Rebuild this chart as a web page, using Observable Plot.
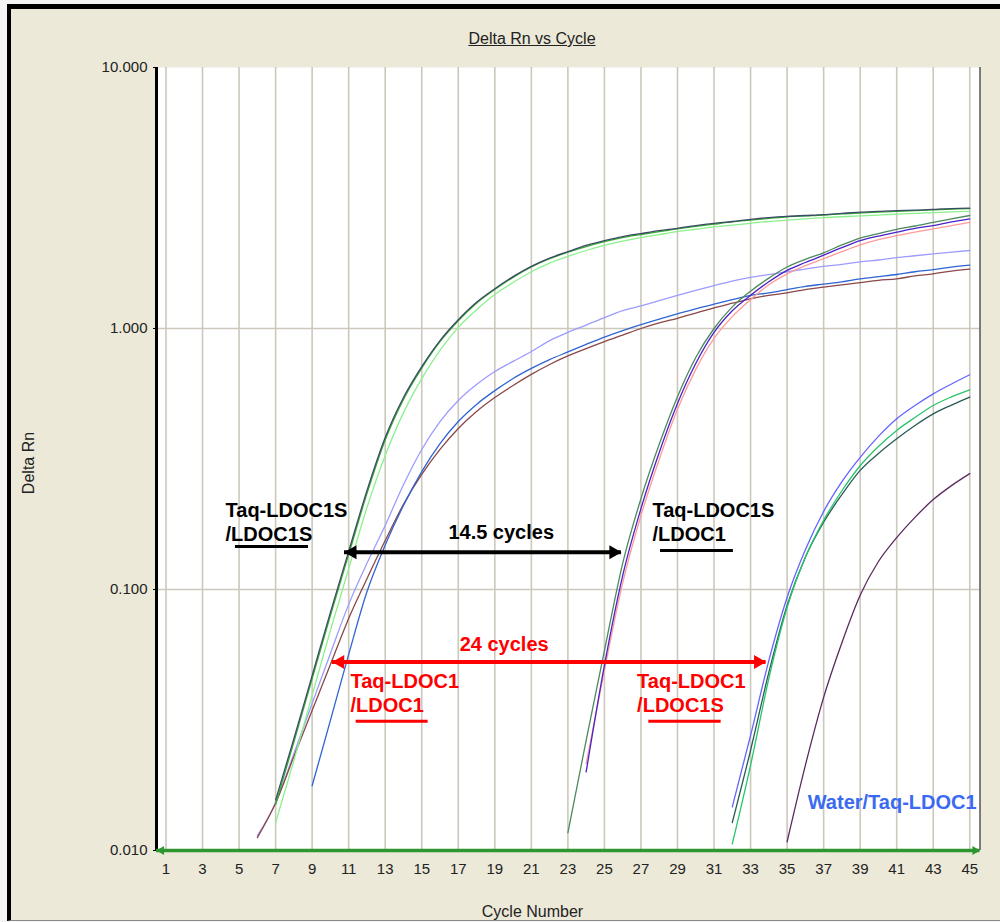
<!DOCTYPE html>
<html>
<head>
<meta charset="utf-8">
<script src="https://cdn.jsdelivr.net/npm/d3@7"></script>
<script src="https://cdn.jsdelivr.net/npm/@observablehq/plot@0.6"></script>
<style>
html, body { margin: 0; padding: 0; width: 1000px; height: 922px; overflow: hidden; background: #f4f4f4;
  font-family: "Liberation Sans", Arial, sans-serif; }
#panel { position: absolute; left: 7px; top: 4px; width: 1000px; height: 917px; box-sizing: border-box;
  background: #ece9d8; border-top: 5px solid #000; border-left: 4px solid #000; border-bottom: 1px solid #8a8a8a; }
#title { position: absolute; left: 0; width: 1064px; top: 30px; text-align: center; font-size: 16px; line-height: 18px;
  color: #222; text-decoration: underline; }
#ylabel { position: absolute; left: 29px; top: 463px; transform: translate(-50%, -50%) rotate(-90deg);
  font-size: 16px; color: #222; white-space: nowrap; }
#xlabel { position: absolute; left: 0; width: 1065px; top: 903px; text-align: center; font-size: 16px; line-height: 18px; color: #222; }
#chart { position: absolute; left: 0; top: 0; }
</style>
</head>
<body>
<div id="panel"></div>
<div id="title">Delta Rn vs Cycle</div>
<div id="ylabel">Delta Rn</div>
<div id="xlabel">Cycle Number</div>
<div id="chart"></div>
<script>
// ---------- data ----------
const cycleTicks = d3.range(1, 46, 2);            // 1, 3, ..., 45
const yTicks = [0.01, 0.1, 1, 10];
const xDomain = [0.48, 45.56];
const yDomain = [0.01, 10];

// Taq-LDOC1S / LDOC1S (early, high plateau)
const aDarkStart = 7;
const aDark = [0.0156, 0.0268, 0.0468, 0.0817, 0.140, 0.239, 0.382, 0.544, 0.714, 0.899, 1.08, 1.26, 1.42, 1.58, 1.73, 1.86, 1.97, 2.08, 2.17, 2.25, 2.31, 2.37, 2.42, 2.48, 2.53, 2.57, 2.62, 2.66, 2.69, 2.71, 2.73, 2.76, 2.79, 2.81, 2.83, 2.84, 2.86, 2.88, 2.89];
const aGreenStart = 7;
const aGreen = [0.0150, 0.0260, 0.0455, 0.0795, 0.136, 0.233, 0.374, 0.535, 0.705, 0.89, 1.07, 1.25, 1.41, 1.57, 1.72, 1.85, 1.96, 2.06, 2.15, 2.23, 2.29, 2.35, 2.41, 2.46, 2.51, 2.56, 2.60, 2.64, 2.68, 2.70, 2.72, 2.75, 2.77, 2.79, 2.81, 2.83, 2.85, 2.87, 2.88];
const aLightStart = 7;
const aLight = [0.0128, 0.0221, 0.0393, 0.0697, 0.120, 0.206, 0.326, 0.476, 0.643, 0.824, 1.01, 1.18, 1.35, 1.50, 1.65, 1.78, 1.89, 1.99, 2.08, 2.16, 2.23, 2.29, 2.35, 2.40, 2.45, 2.49, 2.53, 2.57, 2.60, 2.63, 2.66, 2.68, 2.70, 2.72, 2.74, 2.76, 2.78, 2.80, 2.81];

// Taq-LDOC1 / LDOC1 (early, lower plateau)
const bLavenderStart = 6;
const bLavender = [0.0114, 0.0152, 0.0235, 0.0366, 0.0569, 0.0877, 0.126, 0.176, 0.252, 0.344, 0.44, 0.530, 0.610, 0.684, 0.748, 0.816, 0.899, 0.966, 1.03, 1.10, 1.17, 1.22, 1.28, 1.34, 1.40, 1.46, 1.52, 1.57, 1.61, 1.65, 1.69, 1.73, 1.76, 1.80, 1.83, 1.87, 1.90, 1.93, 1.96, 1.99];
const bBlueStart = 9;
const bBlue = [0.0177, 0.0315, 0.0564, 0.098, 0.148, 0.210, 0.283, 0.362, 0.44, 0.512, 0.578, 0.643, 0.703, 0.760, 0.813, 0.869, 0.927, 0.982, 1.035, 1.087, 1.138, 1.19, 1.24, 1.29, 1.34, 1.37, 1.41, 1.45, 1.48, 1.51, 1.55, 1.58, 1.61, 1.65, 1.68, 1.72, 1.75];
const bBrownStart = 6;
const bBrown = [0.0112, 0.0152, 0.0229, 0.0344, 0.0516, 0.0775, 0.110, 0.154, 0.212, 0.276, 0.344, 0.414, 0.481, 0.544, 0.605, 0.667, 0.728, 0.785, 0.838, 0.891, 0.944, 1.0, 1.05, 1.094, 1.146, 1.20, 1.25, 1.30, 1.34, 1.37, 1.41, 1.44, 1.47, 1.50, 1.53, 1.55, 1.59, 1.62, 1.66, 1.69];

// Taq-LDOC1S / LDOC1 (middle)
const cGreenStart = 23;
const cGreen = [0.0117, 0.0264, 0.0583, 0.126, 0.223, 0.36, 0.548, 0.774, 1.0, 1.21, 1.39, 1.56, 1.72, 1.84, 1.95, 2.09, 2.22, 2.31, 2.40, 2.47, 2.55, 2.63, 2.71];
const cPurpleStart = 24;
const cPurple = [0.020, 0.0512, 0.113, 0.204, 0.335, 0.516, 0.734, 0.966, 1.17, 1.34, 1.51, 1.67, 1.79, 1.91, 2.04, 2.17, 2.26, 2.34, 2.42, 2.48, 2.56, 2.63];
const cPinkStart = 24;
const cPink = [0.0215, 0.049, 0.106, 0.192, 0.315, 0.49, 0.697, 0.916, 1.11, 1.29, 1.47, 1.62, 1.74, 1.85, 1.97, 2.09, 2.19, 2.27, 2.34, 2.41, 2.48, 2.55];

// Taq-LDOC1 / LDOC1S (late)
const dBlueStart = 32;
const dBlue = [0.0147, 0.0276, 0.0534, 0.0932, 0.142, 0.199, 0.259, 0.321, 0.386, 0.451, 0.507, 0.562, 0.613, 0.665];
const dGreenStart = 32;
const dGreen = [0.0106, 0.0212, 0.0456, 0.0853, 0.133, 0.184, 0.239, 0.298, 0.353, 0.407, 0.456, 0.507, 0.547, 0.582];
const dTealStart = 32;
const dTeal = [0.0128, 0.0242, 0.0481, 0.0869, 0.133, 0.181, 0.231, 0.286, 0.332, 0.378, 0.425, 0.471, 0.509, 0.546];

// Water / Taq-LDOC1
const eWaterStart = 35;
const eWater = [0.0108, 0.0212, 0.0386, 0.0625, 0.095, 0.128, 0.158, 0.189, 0.221, 0.25, 0.278];

// annotations (anchored in data space: cycle, Delta Rn)
const labelTexts  = ["Taq-LDOC1S\n/LDOC1S", "14.5 cycles", "Taq-LDOC1S\n/LDOC1", "24 cycles", "Taq-LDOC1\n/LDOC1", "Taq-LDOC1\n/LDOC1S", "Water/Taq-LDOC1"];
const labelCycles = [4.26, 19.35, 27.63, 19.51, 11.10, 26.79, 36.13];
const labelRn     = [0.1528, 0.1555, 0.1528, 0.0583, 0.0339, 0.0339, 0.01445];
const underlineX1 = [4.80, 28.07, 11.41, 27.43];
const underlineX2 = [8.80, 32.06, 15.35, 31.39];
const underlineRn = [0.1462, 0.141, 0.0313, 0.0313];
const arrowX1 = [10.77, 10.10];
const arrowX2 = [25.93, 33.85];
const arrowRn = [0.139, 0.0527];

// ---------- build ----------
const series = [
  {start: bLavenderStart, values: bLavender, color: "#9c9cff"},
  {start: bBrownStart, values: bBrown, color: "#8a4848"},
  {start: bBlueStart, values: bBlue, color: "#2f64d2"},
  {start: aLightStart, values: aLight, color: "#8cf08c"},
  {start: aGreenStart, values: aGreen, color: "#30b030"},
  {start: aDarkStart, values: aDark, color: "#3c4b63"},
  {start: cPinkStart, values: cPink, color: "#ff9a9a"},
  {start: cPurpleStart, values: cPurple, color: "#4a22c8"},
  {start: cGreenStart, values: cGreen, color: "#4d8a5d"},
  {start: dTealStart, values: dTeal, color: "#2a5a55"},
  {start: dGreenStart, values: dGreen, color: "#27c46a"},
  {start: dBlueStart, values: dBlue, color: "#6464ff"},
  {start: eWaterStart, values: eWater, color: "#5a2a5e"}
];

const labelColors = ["#000", "#000", "#000", "#ff0000", "#ff0000", "#ff0000", "#3a6af2"];
const labelAnchors = ["start", "middle", "start", "middle", "start", "start", "start"];
const labels = labelTexts.map((t, i) => ({text: t, cycle: labelCycles[i], rn: labelRn[i], color: labelColors[i], anchor: labelAnchors[i]}));
const underlineColors = ["#000", "#000", "#ff0000", "#ff0000"];
const underlines = underlineX1.map((x1, i) => ({x1, x2: underlineX2[i], rn: underlineRn[i], color: underlineColors[i]}));
const arrowColors = ["#000", "#ff0000"];
const arrows = arrowX1.map((x1, i) => ({x1, x2: arrowX2[i], rn: arrowRn[i], color: arrowColors[i]}));

const font = "'Liberation Sans', Arial, sans-serif";
const gridColor = "#ccc8bc";
const axisGreen = "#2e962e";

const marks = [
  Plot.frame({fill: "white", stroke: null}),
  Plot.ruleX(cycleTicks, {stroke: gridColor, strokeWidth: 1.6}),
  Plot.ruleY([0.1, 1], {stroke: gridColor, strokeWidth: 1.6}),
  ...series.map(s => Plot.line(s.values, {x: (d, i) => s.start + i, y: d => d, stroke: s.color, strokeWidth: 1.3, curve: "monotone-x"})),
  // underlines
  ...underlines.map(u => Plot.ruleY([u], {y: "rn", x1: "x1", x2: "x2", stroke: u.color, strokeWidth: 3})),
  // double-headed arrows
  ...arrows.flatMap(a => [
    Plot.ruleY([a], {y: "rn", x1: "x1", x2: "x2", stroke: a.color, strokeWidth: 4}),
    Plot.dot([a], {x: "x1", y: "rn", symbol: "triangle", r: 5.2, rotate: -90, fill: a.color, stroke: null, dx: 8}),
    Plot.dot([a], {x: "x2", y: "rn", symbol: "triangle", r: 5.2, rotate: 90, fill: a.color, stroke: null, dx: -8})
  ]),
  // labels
  ...labels.map(l => Plot.text([l], {x: "cycle", y: "rn", text: "text", fill: l.color, textAnchor: l.anchor,
    lineAnchor: "bottom", lineHeight: 1.2, fontSize: 20, fontWeight: "bold", fontFamily: font})),
  // border lines
  Plot.ruleX([xDomain[1]], {stroke: "#555", strokeWidth: 1.5}),
  Plot.ruleX([xDomain[0]], {stroke: "#000", strokeWidth: 3}),
  // green x axis line with arrow heads
  Plot.ruleY([yDomain[0]], {stroke: axisGreen, strokeWidth: 3.5}),
  Plot.dot([xDomain[0]], {x: d => d, y: () => yDomain[0], symbol: "triangle", r: 3.3, rotate: -90, fill: axisGreen, stroke: null, dx: 5}),
  Plot.dot([xDomain[1]], {x: d => d, y: () => yDomain[0], symbol: "triangle", r: 3.3, rotate: 90, fill: axisGreen, stroke: null, dx: -5}),
  Plot.axisY(yTicks, {tickFormat: d3.format(".3f"), tickSize: 3, tickPadding: 6, fontSize: 15, label: null, stroke: "#000"}),
  Plot.axisX(cycleTicks, {tickFormat: d => String(d), tickSize: 0, tickPadding: 13, fontSize: 15, label: null})
];

const chart = Plot.plot({
  width: 1000,
  height: 922,
  marginLeft: 156,
  marginRight: 20.5,
  marginTop: 67,
  marginBottom: 72,
  x: {domain: xDomain},
  y: {type: "log", domain: yDomain},
  style: {background: "transparent", fontFamily: font, color: "#222", overflow: "visible"},
  marks
});
document.getElementById("chart").append(chart);
</script>
</body>
</html>
